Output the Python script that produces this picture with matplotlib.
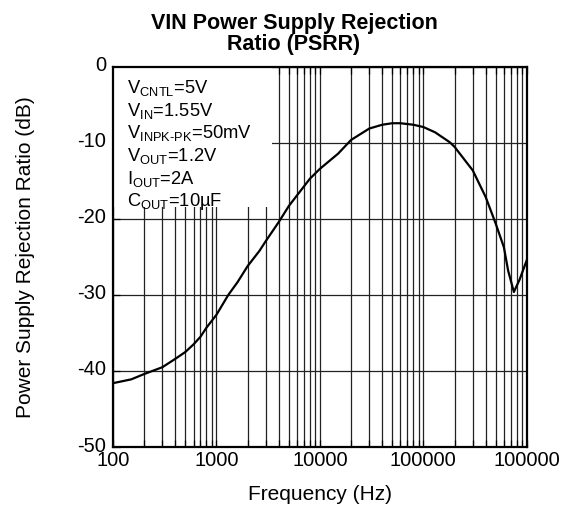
import matplotlib
matplotlib.use('Agg')
import matplotlib.pyplot as plt
import matplotlib.transforms as mtransforms
from matplotlib.ticker import FixedLocator, FixedFormatter, LogLocator, NullFormatter
from matplotlib.patches import Rectangle

plt.rcParams['font.family'] = ['Liberation Sans', 'DejaVu Sans']
plt.rcParams['mathtext.fontset'] = 'custom'
plt.rcParams['mathtext.rm'] = 'Liberation Sans'
plt.rcParams['mathtext.it'] = 'Liberation Sans:italic'
plt.rcParams['mathtext.bf'] = 'Liberation Sans:bold'

# PSRR curve
freq = [100, 150, 200, 300, 400, 500, 600, 700, 800, 1000, 1300, 1600, 2000,
        2600, 3000, 4000, 5000, 6000, 8000, 10000, 15000, 20000, 30000, 40000,
        50000, 60000, 80000, 100000, 130000, 180000, 200000, 300000, 400000,
        500000, 600000, 660000, 750000, 850000, 1000000]
psrr = [-41.6, -41.1, -40.4, -39.5, -38.4, -37.5, -36.5, -35.5, -34.3, -32.6,
        -30.0, -28.3, -26.2, -24.2, -22.9, -20.4, -18.3, -16.9, -14.7, -13.4,
        -11.4, -9.6, -8.1, -7.6, -7.4, -7.4, -7.6, -7.9, -8.6, -9.9, -10.5,
        -13.6, -17.1, -20.6, -23.7, -26.8, -29.6, -28.0, -25.4]

x_ticks = [100, 1000, 10000, 100000, 1000000]
x_tick_labels = ['100', '1000', '10000', '100000', '100000']
y_ticks = [0, -10, -20, -30, -40, -50]

conditions = [
    r'V$_{\mathrm{CNTL}}$=5V',
    r'V$_{\mathrm{IN}}$=1.55V',
    r'V$_{\mathrm{INPK\text{-}PK}}$=50mV',
    r'V$_{\mathrm{OUT}}$=1.2V',
    r'I$_{\mathrm{OUT}}$=2A',
    r'C$_{\mathrm{OUT}}$=10µF',
]

fig = plt.figure(figsize=(5.72, 5.09), dpi=100)
ax = fig.add_axes([0.1976, 0.1218, 0.7234, 0.7466])

ax.plot(freq, psrr, color='black', lw=1.6, zorder=4)

ax.set_xscale('log')
ax.set_xlim(100, 1000000)
ax.set_ylim(-50, 0)

ax.xaxis.set_major_locator(FixedLocator(x_ticks))
ax.xaxis.set_major_formatter(FixedFormatter(x_tick_labels))
ax.xaxis.set_minor_locator(LogLocator(base=10, subs=range(2, 10)))
ax.xaxis.set_minor_formatter(NullFormatter())
ax.set_yticks(y_ticks)
ax.set_yticklabels([str(v) for v in y_ticks])

ax.grid(True, which='both', axis='x', color='#222222', lw=0.9, zorder=1)
ax.grid(True, which='major', axis='y', color='#222222', lw=0.9, zorder=1)

ax.tick_params(axis='both', which='both', direction='in', labelsize=14.5,
               top=True, right=False, width=0.9, length=5)
ax.tick_params(axis='x', which='major', pad=3)
ax.tick_params(axis='y', which='major', pad=5)

# y labels sit a little above their gridlines in the reference
shift = mtransforms.ScaledTranslation(0, 3 / 100, fig.dpi_scale_trans)
for lbl in ax.get_yticklabels():
    lbl.set_transform(lbl.get_transform() + shift)

for s in ax.spines.values():
    s.set_linewidth(1.6)
    s.set_zorder(5)

# white patch behind the condition text
ax.add_patch(Rectangle((0, 0.632), 0.384, 0.368, transform=ax.transAxes,
                       facecolor='white', edgecolor='none', zorder=2))

for i, line in enumerate(conditions):
    ax.text(0.034, 0.944 - i * 0.0595, line, transform=ax.transAxes,
            fontsize=13.2, va='center', ha='left', zorder=3)

ax.set_xlabel('Frequency (Hz)', fontsize=15, labelpad=11)
ax.set_ylabel('Power Supply Rejection Ratio (dB)', fontsize=15, labelpad=30)

fig.text(0.514, 0.933, 'VIN Power Supply Rejection\nRatio (PSRR)',
         ha='center', va='center', fontsize=15.5, fontweight='bold',
         linespacing=1.0)

fig.savefig('out.png', dpi=100)
